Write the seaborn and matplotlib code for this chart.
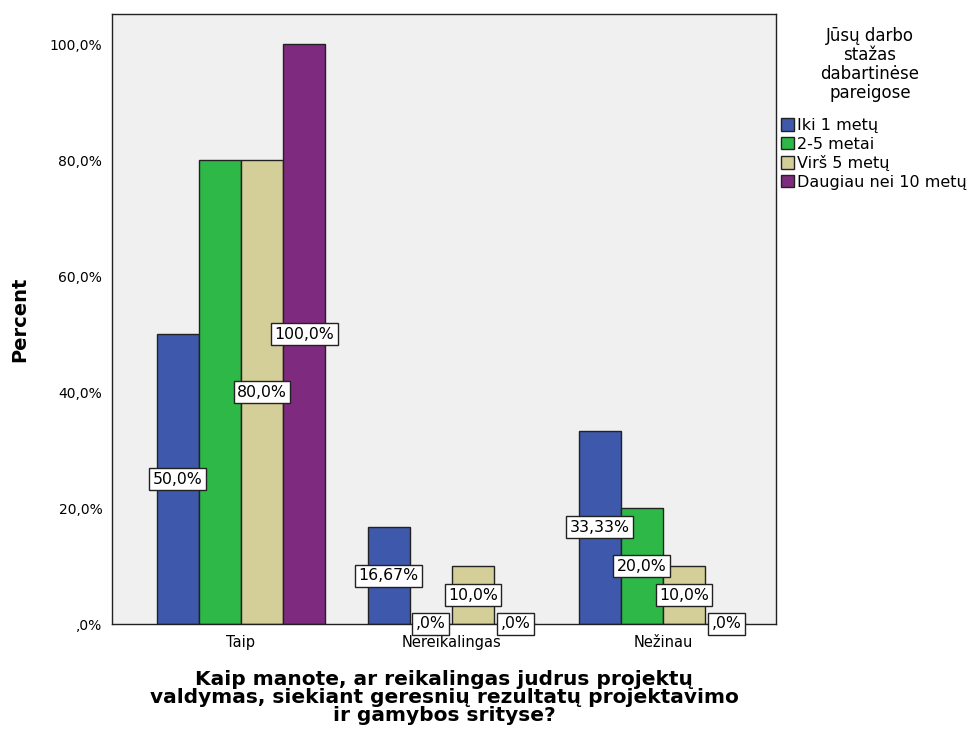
import matplotlib
matplotlib.use("Agg")
import matplotlib.pyplot as plt
import seaborn as sns
import pandas as pd
import numpy as np
from matplotlib.patches import Patch

categories = ["Taip", "Nereikalingas", "Nežinau"]
groups = ["Iki 1 metų", "2-5 metai", "Virš 5 metų", "Daugiau nei 10 metų"]
values_iki1 = [50.0, 16.67, 33.33]
values_2_5 = [80.0, 0.0, 20.0]
values_virs5 = [80.0, 10.0, 10.0]
values_daug10 = [100.0, 0.0, 0.0]
label_texts = {
    "Iki 1 metų": ["50,0%", "16,67%", "33,33%"],
    "2-5 metai": [None, ",0%", "20,0%"],
    "Virš 5 metų": ["80,0%", "10,0%", "10,0%"],
    "Daugiau nei 10 metų": ["100,0%", ",0%", ",0%"],
}
colors = ["#3E58AC", "#2EB848", "#D4CE98", "#7E2A7E"]
yticks = [0, 20, 40, 60, 80, 100]
ytick_labels = [",0%", "20,0%", "40,0%", "60,0%", "80,0%", "100,0%"]
legend_title = "Jūsų darbo\nstažas\ndabartinėse\npareigose"
x_title = "Kaip manote, ar reikalingas judrus projektų\nvaldymas, siekiant geresnių rezultatų projektavimo\nir gamybos srityse?"

rows = []
for g, vals in zip(groups, [values_iki1, values_2_5, values_virs5, values_daug10]):
    for c, v in zip(categories, vals):
        rows.append({"cat": c, "group": g, "value": v})
df = pd.DataFrame(rows)

sns.set_style("white")
plt.rcParams["font.family"] = ["DejaVu Sans"]
plt.rcParams["text.color"] = "black"
plt.rcParams["axes.labelcolor"] = "black"
plt.rcParams["xtick.color"] = "black"
plt.rcParams["ytick.color"] = "black"

fig = plt.figure(figsize=(9.72, 7.33), dpi=100)
ax = fig.add_axes([112/972, 1-624/733, (776-112)/972, (624-14)/733])
ax.set_facecolor("#F0F0F0")

sns.barplot(data=df, x="cat", y="value", hue="group", order=categories,
            hue_order=groups, palette=colors, width=0.8, saturation=1,
            edgecolor="#222222", linewidth=1.0, ax=ax, legend=False)

ax.set_xlim(-0.611, 2.536)
ax.set_ylim(0, 105.2)
ax.set_yticks(yticks)
ax.set_yticklabels(ytick_labels, fontsize=10)
ax.tick_params(axis="y", direction="out", length=5, width=1, color="#222222", pad=2)
ax.tick_params(axis="x", direction="out", length=6, width=1, color="#222222", labelsize=10.5, pad=2)
for s in ax.spines.values():
    s.set_color("#222222")
    s.set_linewidth(1.0)

ax.set_ylabel("Percent", fontsize=14, fontweight="bold", labelpad=15)
ax.set_xlabel(x_title, fontsize=14.5, fontweight="bold", labelpad=14, linespacing=0.95)

for cont, g in zip(ax.containers, groups):
    for bar, txt in zip(cont.patches, label_texts[g]):
        if txt is None:
            continue
        x = bar.get_x() + bar.get_width() / 2
        y = bar.get_height() / 2
        ax.text(x, y, txt, ha="center", va="center", fontsize=11.3, zorder=5,
                bbox=dict(boxstyle="square,pad=0.22", fc="white", ec="#222222", lw=1.0),
                clip_on=False)

fig.text(870/972, 1-27/733, legend_title, ha="center", va="top", fontsize=12,
         linespacing=1.07, multialignment="center")
handles = [Patch(facecolor=c, edgecolor="#222222", lw=1.0) for c in colors]
leg = fig.legend(handles, groups, loc="upper left", bbox_to_anchor=(781/972, 1-118/733),
                 fontsize=11.5, frameon=False, handlelength=0.8, handleheight=0.8,
                 handletextpad=0.2, labelspacing=0.22, borderaxespad=0, borderpad=0.0)

fig.savefig("out.png", dpi=100, facecolor="white")
